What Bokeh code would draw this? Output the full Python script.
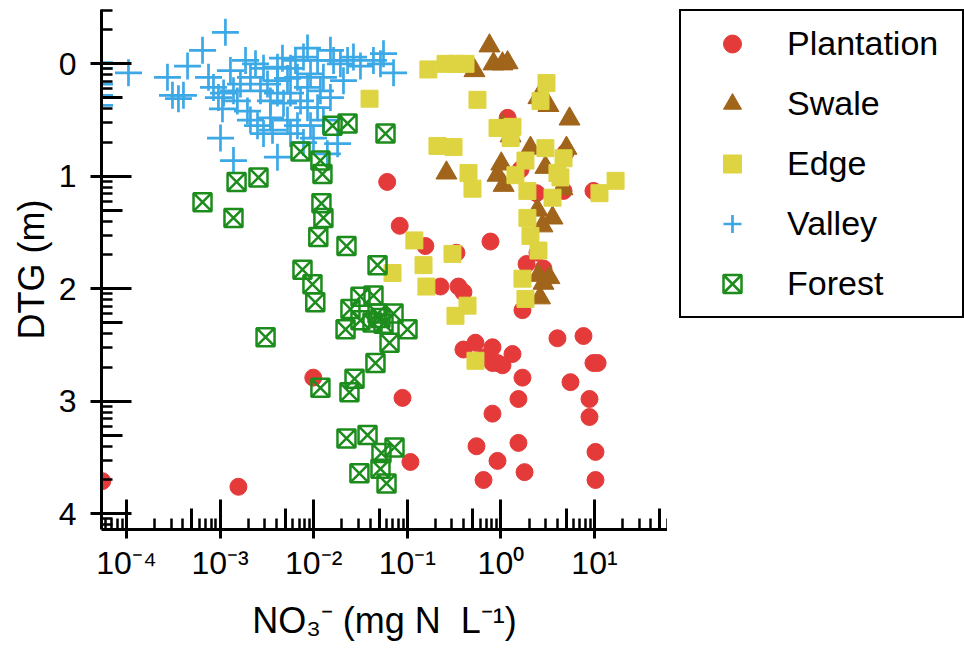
import math

from bokeh.plotting import figure
from bokeh.layouts import row
from bokeh.models import Range1d, FixedTicker, LinearAxis, LogAxis, Legend, LegendItem, CustomJSTickFormatter
from bokeh.embed import file_html
from bokeh.resources import INLINE

# Nitrate (mg N/L) and depth to groundwater (m) for each landscape position
plantation_no3 = [5.5e-5, 1.57e-3, 0.061, 0.083, 0.156, 0.226, 0.335, 0.352, 0.398, 0.774,
                  1.18, 1.62, 1.70, 1.88, 2.40, 2.46, 2.85, 4.9, 4.67, 9.75,
                  4.02, 7.63, 0.398, 0.535, 0.813, 0.652, 0.813, 0.92, 1.04, 1.33,
                  1.70, 9.75, 10.8, 5.54, 1.54, 8.84, 8.84, 0.0889, 0.813, 0.549,
                  1.54, 0.92, 0.108, 0.652, 1.79, 10.25, 10.25, 0.0099]
plantation_dtg = [3.71, 3.76, 1.05, 1.44, 1.62, 1.98, 1.68, 1.98, 2.03, 1.58,
                  0.48, 0.94, 2.19, 1.78, 1.15, 1.68, 1.82, 0.79, 1.13, 1.13,
                  2.44, 2.42, 2.54, 2.48, 2.52, 2.61, 2.66, 2.66, 2.68, 2.58,
                  2.79, 2.66, 2.66, 2.83, 2.98, 2.98, 3.14, 2.97, 3.11, 3.40,
                  3.37, 3.53, 3.54, 3.70, 3.63, 3.45, 3.70, 2.79]

swale_no3 = [0.755, 0.522, 0.834, 1.04, 1.18, 2.52, 3.22, 5.41, 1.04, 1.27,
             2.07, 5.02, 1.01, 2.99, 0.262, 0.92, 1.07, 4.55, 2.46, 3.56,
             2.78, 2.52, 2.85, 2.62, 3.3]
swale_dtg = [-0.16, 0.06, 0.0, 0.0, -0.01, 0.30, 0.37, 0.49, 0.55, 0.64,
             0.75, 0.75, 0.89, 0.92, 0.97, 0.99, 1.08, 1.11, 1.30, 1.37,
             1.44, 1.88, 1.95, 2.08, 1.90]

edge_no3 = [0.168, 0.256, 0.327, 0.419, 0.0395, 0.562, 3.07, 2.65, 0.92, 1.33,
            1.27, 0.210, 0.312, 0.451, 0.497, 2.99, 1.83, 1.43, 1.92, 4.02,
            4.67, 3.56, 16.8, 11.3, 1.92, 2.07, 2.52, 1.70, 1.83, 0.119,
            0.149, 0.160, 0.304, 0.0695, 0.440, 0.327, 0.535, 4.33]
edge_dtg = [0.05, 0.0, 0.0, 0.0, 0.31, 0.32, 0.17, 0.33, 0.57, 0.56,
            0.66, 0.73, 0.74, 0.97, 1.11, 0.75, 0.86, 0.99, 1.13, 0.97,
            0.84, 1.19, 1.04, 1.15, 1.37, 1.53, 1.66, 1.91, 2.09, 1.57,
            1.79, 1.98, 1.69, 1.86, 2.15, 2.24, 2.64, 1.01]

valley_no3 = [1.14e-3, 6.49e-4, 4.49e-4, 2.74e-4, 3.10e-4, 3.59e-4, 4.06e-4, 7.52e-4, 1.29e-3, 9.6e-4,
              1.09e-3, 1.06e-3, 1.53e-3, 1.96e-3, 2.11e-3, 2.51e-3, 2.91e-3, 3.63e-3, 1.01e-3, 1.39e-3,
              4.10e-3, 5.65e-3, 6.71e-3, 9.25e-3, 1.27e-2, 1.80e-2, 1.40e-2, 7.78e-3, 1.87e-3, 2.39e-3,
              2.91e-3, 4.10e-3, 4.64e-3, 5.65e-3, 6.39e-3, 7.78e-3, 8.59e-3, 1.10e-2, 1.51e-2, 1.63e-2,
              1.93e-2, 2.30e-2, 2.66e-2, 4.35e-2, 5.17e-2, 5.57e-2, 7.13e-2, 4.10e-3, 5.25e-3, 6.71e-3,
              8.59e-3, 1.18e-2, 1.51e-2, 5.65e-3, 4.10e-3, 3.21e-3, 2.70e-3, 3.45e-3, 4.76e-3, 8.59e-3,
              1.10e-2, 9.25e-3, 1.27e-2, 2.11e-3, 1.65e-3, 1.39e-3, 8.5e-4, 3.45e-3, 5.25e-3, 9.95e-3,
              1.05e-4, 5.15e-5, 5.15e-5, 5.15e-5, 5.15e-5, 5.15e-5, 3.16e-2, 2.08e-2, 7.23e-3]
valley_dtg = [-0.28, -0.12, 0.02, 0.12, 0.28, 0.31, 0.28, 0.12, 0.06, 0.30,
              0.26, 0.40, 0.33, 0.42, 0.50, 0.55, 0.62, 0.59, 0.66, 0.86,
              0.83, 0.62, 0.55, 0.55, 0.50, 0.71, 0.80, 0.70, -0.03, 0.0,
              0.04, 0.03, -0.05, 0.04, -0.03, -0.06, -0.14, -0.03, -0.12, -0.03,
              0.0, -0.03, -0.06, -0.03, 0.0, -0.09, 0.08, 0.15, 0.13, 0.12,
              0.21, 0.24, 0.30, 0.26, 0.26, 0.18, 0.24, 0.33, 0.35, 0.39,
              0.39, 0.09, 0.12, 0.12, 0.18, 0.24, 0.21, 0.48, 0.50, 0.66,
              0.08, -0.01, 0.04, 0.18, 0.28, 0.37, 0.02, 0.15, 0.33]

forest_no3 = [1.59e-2, 2.30e-2, 5.85e-2, 7.23e-3, 1.18e-2, 1.24e-2, 1.50e-3, 2.57e-3, 6.49e-4, 1.39e-3,
              1.21e-2, 1.27e-2, 1.12e-2, 2.24e-2, 4.81e-2, 7.59e-3, 9.70e-3, 1.04e-2, 3.16e-2, 4.35e-2,
              2.47e-2, 2.19e-2, 3.16e-2, 5.17e-2, 7.13e-2, 0.1005, 6.46e-2, 5.57e-2, 4.57e-2, 3.06e-3,
              1.18e-2, 2.73e-2, 2.41e-2, 2.24e-2, 3.76e-2, 7.30e-2, 5.30e-2, 5.17e-2, 3.08e-2, 6.0e-2,
              4.25e-2, 4.81e-2]
forest_dtg = [0.55, 0.53, 0.62, 0.78, 0.86, 0.98, 1.05, 1.01, 1.23, 1.37,
              1.24, 1.37, 1.54, 1.62, 1.79, 1.83, 1.96, 2.12, 2.07, 2.06,
              2.18, 2.36, 2.28, 2.26, 2.22, 2.36, 2.48, 2.31, 2.66, 2.43,
              2.88, 2.80, 2.92, 3.33, 3.30, 3.41, 3.46, 3.60, 3.64, 3.73,
              2.30, 2.22]

series_names = ["Plantation", "Swale", "Edge", "Valley", "Forest"]

x_decades = [1e-4, 1e-3, 1e-2, 1e-1, 1e0, 1e1]
x_tick_labels = ["10\u207b\u2074", "10\u207b\u00b3", "10\u207b\u00b2", "10\u207b\u00b9", "10\u2070", "10\u00b9"]
y_ticks = [0, 1, 2, 3, 4]

X_MIN, X_MAX = 10 ** -4.267, 10 ** 1.78
Y_BOTTOM, Y_TOP = 4.14, -0.483

FONT = "Liberation Sans"
RED = "#e43a3a"
BROWN = "#a0641a"
YELLOW = "#ded442"
BLUE = "#3ca8e6"
GREEN = "#1c8c1c"

# marker style per series, shared by the scatter and its legend entry
styles = [
    dict(marker="circle", size=17, fill_color=RED, line_color=RED),
    dict(marker="triangle", size=21, fill_color=BROWN, line_color=BROWN),
    dict(marker="square", size=17, fill_color=YELLOW, line_color=YELLOW),
    dict(marker="cross", size=27, line_color=BLUE, line_width=2.7),
    dict(marker="square_x", size=18, fill_color=None, line_color=GREEN, line_width=2.5),
]
series = [(plantation_no3, plantation_dtg), (swale_no3, swale_dtg), (edge_no3, edge_dtg),
          (valley_no3, valley_dtg), (forest_no3, forest_dtg)]

p = figure(width=667, height=660, x_axis_type="log", x_axis_location=None, y_axis_location=None,
           x_range=Range1d(X_MIN, X_MAX), y_range=Range1d(Y_BOTTOM, Y_TOP),
           output_backend="svg", toolbar_location=None,
           min_border_left=101, min_border_right=0, min_border_top=9, min_border_bottom=131)
p.outline_line_color = None
p.background_fill_color = "white"
p.border_fill_color = "white"
p.grid.visible = False

# log-style minor ticks: 2..9 per decade, the "5" tick drawn longer
x_minor = [k * 10.0 ** n for n in range(-5, 2) for k in (2, 3, 4, 6, 7, 8, 9)
           if X_MIN <= k * 10.0 ** n <= X_MAX]
x_mid = [5 * 10.0 ** n for n in range(-5, 2) if X_MIN <= 5 * 10.0 ** n <= X_MAX]
y_minor = [n + 1 - math.log10(k) for n in range(-1, 5) for k in (2, 3, 4, 6, 7, 8, 9)
           if Y_TOP <= n + 1 - math.log10(k) <= Y_BOTTOM]
y_mid = [n + 1 - math.log10(5) for n in range(-1, 5) if Y_TOP <= n + 1 - math.log10(5) <= Y_BOTTOM]

axis_style = dict(axis_line_width=3, axis_line_color="black",
                  major_tick_line_width=3, major_tick_line_color="black",
                  minor_tick_line_width=2.5, minor_tick_line_color="black",
                  minor_tick_in=11, minor_tick_out=0,
                  major_label_text_font=FONT, major_label_text_font_size="32px",
                  major_label_text_color="black",
                  axis_label_text_font=FONT, axis_label_text_font_size="36px",
                  axis_label_text_font_style="normal", axis_label_text_color="black")

xaxis = LogAxis(ticker=FixedTicker(ticks=x_decades, minor_ticks=x_minor),
                major_label_overrides=dict(zip(x_decades, x_tick_labels)),
                major_tick_in=30, major_tick_out=9, major_label_standoff=6,
                axis_label="NO\u2083\u207b (mg N\u00a0\u00a0L\u207b\u00b9)", axis_label_standoff=16,
                **axis_style)
yaxis = LinearAxis(ticker=FixedTicker(ticks=y_ticks, minor_ticks=y_minor),
                   major_tick_in=30, major_tick_out=11, major_label_standoff=14,
                   axis_label="DTG (m)", axis_label_standoff=4,
                   **axis_style)
p.add_layout(xaxis, "below")
p.add_layout(yaxis, "left")

blank = CustomJSTickFormatter(code="return ''")
x_mid_axis = LogAxis(ticker=FixedTicker(ticks=x_mid, minor_ticks=[]), formatter=blank,
                     fixed_location=Y_BOTTOM, axis_line_color=None,
                     major_tick_in=21, major_tick_out=0, major_tick_line_width=3,
                     minor_tick_line_color=None, major_label_text_font_size="0px",
                     major_label_standoff=0)
y_mid_axis = LinearAxis(ticker=FixedTicker(ticks=y_mid, minor_ticks=[]), formatter=blank,
                        fixed_location=X_MIN, axis_line_color=None,
                        major_tick_in=21, major_tick_out=0, major_tick_line_width=3,
                        minor_tick_line_color=None, major_label_text_font_size="0px",
                        major_label_standoff=0)
p.add_layout(x_mid_axis, "below")
p.add_layout(y_mid_axis, "left")

for (xs, ys), st in zip(series, styles):
    p.scatter(xs, ys, **st)

# legend panel to the right of the scatter plot; its view range lies away from the
# data (all NO3 values are positive), so only the legend box shows here
p_leg = figure(width=297, height=660, x_range=Range1d(-2, -1), y_range=Range1d(0, 1),
               x_axis_location=None, y_axis_location=None,
               output_backend="svg", toolbar_location=None, min_border=0)
p_leg.outline_line_color = None
p_leg.grid.visible = False
legend_renderers = [p_leg.scatter(xs, ys, **st) for (xs, ys), st in zip(series, styles)]

# the row aligns this panel's frame with the scatter frame (bottom edge at 529 px)
legend = Legend(items=[LegendItem(label=n, renderers=[r]) for n, r in
                       zip(series_names, legend_renderers)],
                location=(12, 211), margin=0, padding=10, spacing=15,
                glyph_width=82, glyph_height=45, label_height=45, label_width=165,
                label_standoff=14, label_text_font=FONT, label_text_font_size="34px",
                label_text_color="black", border_line_color="black", border_line_width=2,
                border_line_alpha=1.0,
                background_fill_color="white", background_fill_alpha=1.0)
p_leg.add_layout(legend, "center")

layout = row(p, p_leg, spacing=0)
open("out.html", "w").write(file_html(layout, INLINE))
